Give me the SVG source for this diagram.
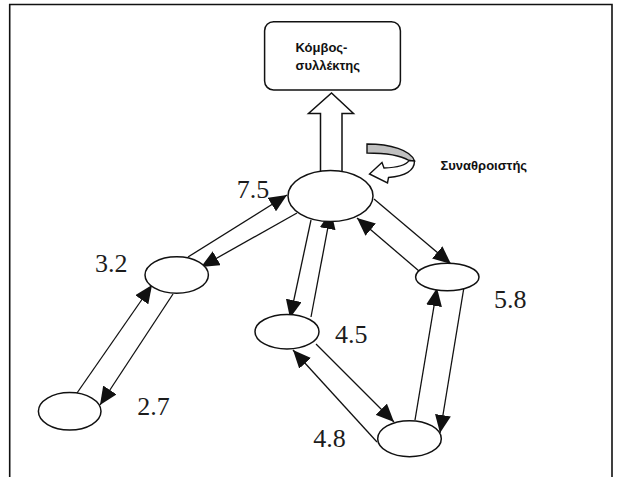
<svg xmlns="http://www.w3.org/2000/svg" width="617" height="477" viewBox="0 0 617 477">
<defs>
<style>
.frame{stroke:#111;stroke-width:1.6;fill:none}
.node{fill:#fff;stroke:#111;stroke-width:1.5}
.edge{stroke:#111;stroke-width:1.3;fill:none;marker-end:url(#ah)}
.num{font-family:"Liberation Serif","Times New Roman",serif;font-size:26px;fill:#1c1c1c}
.gr{font-family:"Liberation Sans",Arial,sans-serif;font-size:13px;font-weight:bold;fill:#111}
</style>
<marker id="ah" markerUnits="userSpaceOnUse" markerWidth="19" markerHeight="16" refX="18" refY="8" orient="auto">
<path d="M0,0 L18,8 L0,16 z" fill="#111"/>
</marker>
</defs>
<rect width="617" height="477" fill="#fff"/>
<g id="frame">
<polyline class="frame" points="9.7,477 9.7,4.5 612,4.5 612,477"/>
</g>
<g id="sink">
<rect class="node" x="264.6" y="21.7" width="135.8" height="68.3" rx="9"/>
<text class="gr" x="295.5" y="52">Κόμβος-</text>
<text class="gr" x="295.5" y="69.5">συλλέκτης</text>
</g>
<g id="uplink">
<polygon points="320.5,172 320.5,113.5 308.5,113.5 331.5,93 353.5,113.5 342,113.5 342,172" fill="#fff" stroke="#111" stroke-width="1.5"/>
</g>
<g id="aggregator-mark">
<path d="M367,144 C390,144 411,150 414.5,161 L409,160.5 C400,155 385,153 367,153 Z" fill="#c0c0c0" stroke="#111" stroke-width="1.4"/>
<path d="M414.5,161 C414.5,171 405,176 388.5,177.5 L387.5,183 L369.5,174 L382,162.5 L384,168 C398,167.5 406,165.5 409,160.5 Z" fill="#fff" stroke="#111" stroke-width="1.4"/>
<text class="gr" x="440.5" y="170">Συναθροιστής</text>
</g>
<g id="connectors">
<line class="edge" x1="188" y1="257" x2="287" y2="195"/>
<line class="edge" x1="297" y1="213" x2="201" y2="267"/>
<line class="edge" x1="77" y1="393" x2="152" y2="285"/>
<line class="edge" x1="173" y1="294" x2="100" y2="405"/>
<line class="edge" x1="311" y1="220" x2="290" y2="318"/>
<line class="edge" x1="311" y1="317" x2="331" y2="211"/>
<line class="edge" x1="374" y1="199" x2="451" y2="264"/>
<line class="edge" x1="419" y1="271" x2="357" y2="218"/>
<line class="edge" x1="316" y1="344" x2="394" y2="422"/>
<line class="edge" x1="377" y1="442" x2="293" y2="350"/>
<line class="edge" x1="415" y1="420" x2="437" y2="288"/>
<line class="edge" x1="464" y1="287" x2="440" y2="433"/>
</g>
<g id="n75">
<ellipse class="node" cx="330.5" cy="196" rx="42.5" ry="25.5"/>
<text class="num" x="236.7" y="198.3">7.5</text>
</g>
<g id="n32">
<ellipse class="node" cx="176.7" cy="275" rx="31.7" ry="18.3"/>
<text class="num" x="95" y="271.7">3.2</text>
</g>
<g id="n27">
<ellipse class="node" cx="69.7" cy="411.3" rx="31.3" ry="18.7"/>
<text class="num" x="137.3" y="415">2.7</text>
</g>
<g id="n45">
<ellipse class="node" cx="287" cy="331.7" rx="32" ry="17.3"/>
<text class="num" x="335" y="342.7">4.5</text>
</g>
<g id="n58">
<ellipse class="node" cx="447.3" cy="277" rx="31.7" ry="13.7"/>
<text class="num" x="494" y="308.3">5.8</text>
</g>
<g id="n48">
<ellipse class="node" cx="409.5" cy="438.7" rx="31.8" ry="18"/>
<text class="num" x="313.3" y="447.3">4.8</text>
</g>
</svg>
